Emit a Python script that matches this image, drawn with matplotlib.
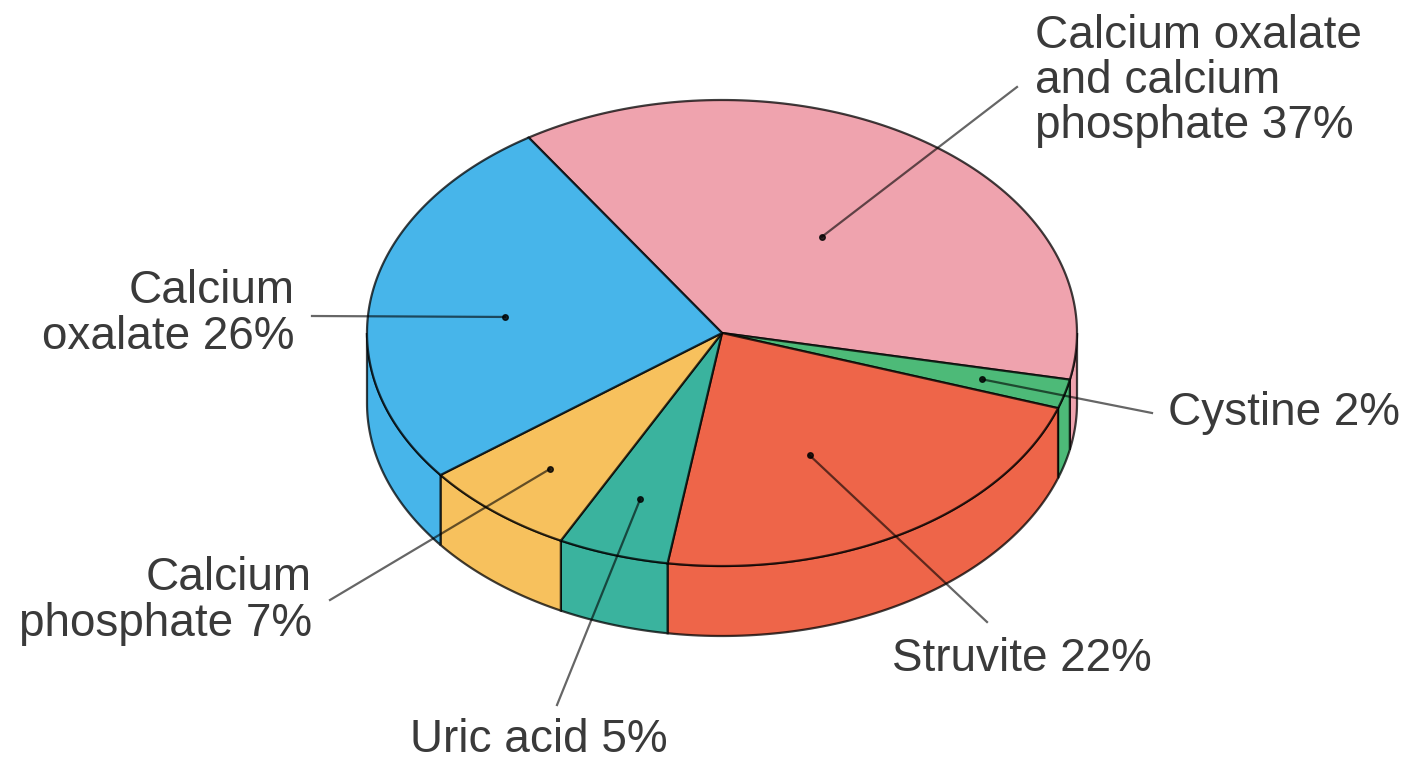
import numpy as np
import matplotlib
matplotlib.use('Agg')
import matplotlib.pyplot as plt
from matplotlib.patches import Polygon

# data (clockwise from the top-left edge)
labels = ["Calcium oxalate\nand calcium\nphosphate 37%", "Cystine 2%", "Struvite 22%",
          "Uric acid 5%", "Calcium\nphosphate 7%", "Calcium\noxalate 26%"]
values = [37, 2, 22, 5, 7, 26]
colors = ['#EFA3AE', '#4DBA78', '#EE6549', '#3AB39E', '#F7C15D', '#47B5EA']

# layout (pixel space)
W, H = 1413, 764
cx, cy = 722, 333
rx, ry = 355, 233
depth = 70
start_deg = 123
dot_r = [0.50, 0.76, 0.58, 0.75, 0.76, 0.615]
dot_shift = [0, 0, -6, 0, 0, 3.3]
text_pos = [(1035, 81, 'left'), (1168, 413, 'left'), (892, 659, 'left'),
            (410, 740, 'left'), (312, 601, 'right'), (295, 314, 'right')]
line_start = [(1017, 87), (1152, 413), (987, 622), (557, 705), (330, 600), (312, 316)]

edge = (0, 0, 0, 0.75)
txt_color = '#3a3a3a'


def rim(t, r=1.0):
  a = np.radians(t)
  return cx + r * rx * np.cos(a), cy - r * ry * np.sin(a)


fig = plt.figure(figsize=(W / 100, H / 100), dpi=100)
ax = fig.add_axes([0, 0, 1, 1])
ax.set_xlim(0, W)
ax.set_ylim(H, 0)
ax.axis('off')

spans = np.array(values, dtype=float) / sum(values) * 360
t_hi = start_deg - np.concatenate([[0], np.cumsum(spans)[:-1]])
t_lo = t_hi - spans

# side of the disc (front half only)
for lo, hi, c in zip(t_lo, t_hi, colors):
  a, b = max(lo, -180), min(hi, 0)
  if a >= b:
    continue
  t = np.linspace(a, b, 80)
  x, y = rim(t)
  pts = np.column_stack([np.concatenate([x, x[::-1]]),
                         np.concatenate([y, y[::-1] + depth])])
  ax.add_patch(Polygon(pts, closed=True, facecolor=c, edgecolor=edge, lw=1.6, zorder=1))

# top face
for lo, hi, c in zip(t_lo, t_hi, colors):
  t = np.linspace(lo, hi, 120)
  x, y = rim(t)
  pts = np.column_stack([np.concatenate([[cx], x]), np.concatenate([[cy], y])])
  ax.add_patch(Polygon(pts, closed=True, facecolor=c, edgecolor=edge, lw=1.6, zorder=2))

# labels and leader lines
for i in range(len(values)):
  mid = (t_lo[i] + t_hi[i]) / 2 + dot_shift[i]
  dx, dy = rim(mid, dot_r[i])
  sx, sy = line_start[i]
  ax.plot([sx, dx], [sy, dy], color=(0, 0, 0, 0.6), lw=1.6, zorder=3)
  ax.plot(dx, dy, 'o', color=(0, 0, 0, 0.8), ms=4, zorder=4)
  tx, ty, ha = text_pos[i]
  ax.text(tx, ty, labels[i], ha=ha, va='center', fontsize=33, linespacing=1.04,
          color=txt_color, family='Liberation Sans', zorder=5)

fig.savefig('out.png', dpi=100, facecolor='white')
